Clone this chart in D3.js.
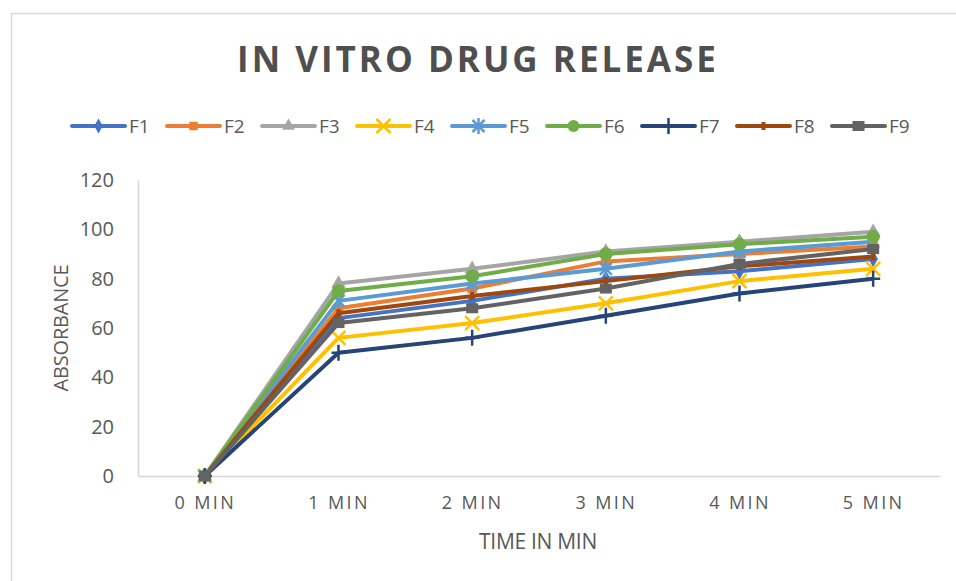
<!DOCTYPE html>
<html>
<head>
<meta charset="utf-8">
<script src="https://cdn.jsdelivr.net/npm/d3@7"></script>
<style>
  body { margin: 0; background: #fff; }
  text { font-family: "Open Sans", sans-serif; fill: #595959; }
</style>
</head>
<body>
<svg id="chart" width="956" height="581"></svg>
<script>
// data
const categories = ["0 MIN", "1 MIN", "2 MIN", "3 MIN", "4 MIN", "5 MIN"];
const seriesNames = ["F1", "F2", "F3", "F4", "F5", "F6", "F7", "F8", "F9"];
const F1 = [0, 64, 71, 80, 83, 88];
const F2 = [0, 68, 76, 87, 90, 93];
const F3 = [0, 78, 84, 91, 95, 99];
const F4 = [0, 56, 62, 70, 79, 84];
const F5 = [0, 71, 78, 84, 91, 95];
const F6 = [0, 75, 81, 90, 94, 97];
const F7 = [0, 50, 56, 65, 74, 80];
const F8 = [0, 66, 73, 79, 85, 89];
const F9 = [0, 62, 68, 76, 86, 92];
const yTicks = [0, 20, 40, 60, 80, 100, 120];

const colors = ["#4472C4", "#ED7D31", "#A5A5A5", "#FFC000", "#5B9BD5",
  "#70AD47", "#264478", "#9E480E", "#636363"];
const markers = ["diamond", "square", "triangle", "x", "star", "circle", "plus", "dash", "wide"];

const series = seriesNames.map((name, i) => ({
  name, values: [F1, F2, F3, F4, F5, F6, F7, F8, F9][i], color: colors[i], marker: markers[i]
}));

const svg = d3.select("#chart");
const margin = { left: 138, right: 16, top: 180, bottom: 105 };
const width = 956 - margin.left - margin.right;
const height = 581 - margin.top - margin.bottom;

// chart border (only top and left show in the crop)
svg.append("path")
  .attr("d", "M11.5,600 V13.5 H960")
  .attr("fill", "none")
  .attr("stroke", "#d9d9d9")
  .attr("stroke-width", 1.5);

svg.append("text")
  .attr("x", 478).attr("y", 72)
  .attr("text-anchor", "middle")
  .style("font-size", "35px")
  .style("font-weight", "bold")
  .style("letter-spacing", "3px")
  .style("fill", "#4f4f4f")
  .text("IN VITRO DRUG RELEASE");

const g = svg.append("g").attr("transform", `translate(${margin.left},${margin.top})`);

const x = d3.scalePoint().domain(categories).range([0, width]).padding(0.5);
const y = d3.scaleLinear().domain([0, 120]).range([height, 0]);

// axes
const yAxis = g.append("g")
  .call(d3.axisLeft(y).tickValues(yTicks).tickSize(0).tickPadding(24));
yAxis.select(".domain").attr("stroke", "#d6d6d6").attr("stroke-width", 1.5);
yAxis.selectAll("text").style("font-size", "20px").attr("fill", "#595959");

const xAxis = g.append("g")
  .attr("transform", `translate(0,${height})`)
  .call(d3.axisBottom(x).tickSize(0).tickPadding(20));
xAxis.select(".domain").attr("stroke", "#d6d6d6").attr("stroke-width", 1.5);
xAxis.selectAll("text")
  .style("font-size", "18px")
  .style("letter-spacing", "2.4px")
  .attr("fill", "#595959");

svg.append("text")
  .attr("x", 538).attr("y", 549)
  .attr("text-anchor", "middle")
  .style("font-size", "21px")
  .style("letter-spacing", "-0.3px")
  .text("TIME IN MIN");

svg.append("text")
  .attr("transform", "translate(68,328) rotate(-90)")
  .attr("text-anchor", "middle")
  .style("font-size", "20px")
  .style("letter-spacing", "-0.2px")
  .text("ABSORBANCE");

function drawMarker(sel, type, color, s) {
  s = s || 1;
  if (type === "diamond") {
    sel.append("path").attr("d", d3.symbol(d3.symbolDiamond, 80 * s)()).attr("fill", color);
  } else if (type === "square") {
    sel.append("path").attr("d", d3.symbol(d3.symbolSquare, 90 * s)()).attr("fill", color);
  } else if (type === "triangle") {
    sel.append("path").attr("d", d3.symbol(d3.symbolTriangle, 90 * s)()).attr("fill", color);
  } else if (type === "circle") {
    sel.append("path").attr("d", d3.symbol(d3.symbolCircle, 140 * s)()).attr("fill", color);
  } else if (type === "x") {
    sel.append("path").attr("d", "M-7,-7L7,7M-7,7L7,-7").attr("stroke", color).attr("stroke-width", 2.5);
  } else if (type === "star") {
    sel.append("path").attr("d", "M-6,-6L6,6M-6,6L6,-6M0,-8V8").attr("stroke", color).attr("stroke-width", 2.5);
  } else if (type === "plus") {
    sel.append("path").attr("d", "M-7,0H7M0,-8V8").attr("stroke", color).attr("stroke-width", 2.5);
  } else if (type === "dash") {
    sel.append("rect").attr("x", -2).attr("y", -4).attr("width", 4).attr("height", 8).attr("fill", color);
  } else if (type === "wide") {
    sel.append("rect").attr("x", -6).attr("y", -5).attr("width", 12).attr("height", 10).attr("fill", color);
  }
}

const line = d3.line().x((d, i) => x(categories[i])).y(d => y(d));

series.forEach(s => {
  g.append("path")
    .datum(s.values)
    .attr("fill", "none")
    .attr("stroke", s.color)
    .attr("stroke-width", 4)
    .attr("stroke-linejoin", "round")
    .attr("d", line);
  s.values.forEach((v, i) => {
    const m = g.append("g").attr("transform", `translate(${x(categories[i])},${y(v)})`);
    drawMarker(m, s.marker, s.color);
  });
});

// legend
const legend = svg.append("g").attr("transform", "translate(72,126)");
series.forEach((s, i) => {
  const item = legend.append("g").attr("transform", `translate(${i * 95},0)`);
  item.append("line")
    .attr("x1", 0).attr("x2", 53)
    .attr("stroke", s.color)
    .attr("stroke-width", 4)
    .attr("stroke-linecap", "round");
  drawMarker(item.append("g").attr("transform", "translate(26.5,0)"), s.marker, s.color, 0.8);
  item.append("text")
    .attr("x", 57).attr("y", 7)
    .style("font-size", "19px")
    .text(s.name);
});
</script>
</body>
</html>
